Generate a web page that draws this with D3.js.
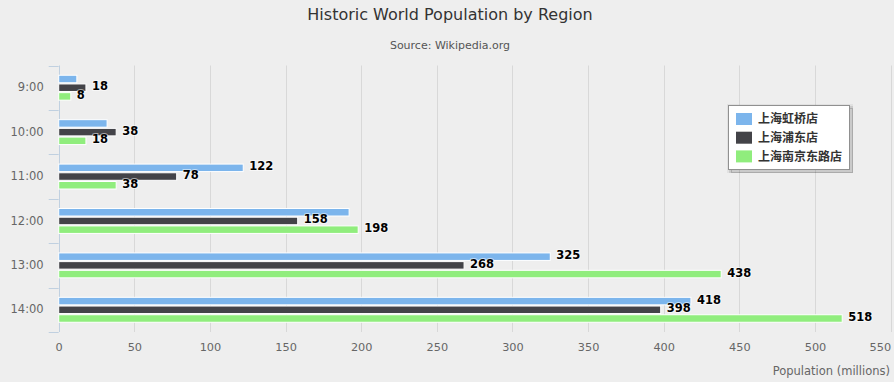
<!DOCTYPE html>
<html>
<head>
<meta charset="utf-8">
<script src="https://cdn.jsdelivr.net/npm/d3@7"></script>
<style>
  html, body { margin: 0; padding: 0; background: #eeeeee; }
  svg { display: block; font-family: "DejaVu Sans", "Noto Sans CJK SC", sans-serif; }
</style>
</head>
<body>
<div id="chart"></div>
<script>
// ---- data ----
const categories = ["9:00", "10:00", "11:00", "12:00", "13:00", "14:00"];
const seriesNames = ["上海虹桥店", "上海浦东店", "上海南京东路店"];
const hongqiao = [12, 32, 122, 192, 325, 418];
const pudong = [18, 38, 78, 158, 268, 398];
const nanjing = [8, 18, 38, 198, 438, 518];
const xTickValues = [0, 50, 100, 150, 200, 250, 300, 350, 400, 450, 500, 550];
const titleText = "Historic World Population by Region";
const subtitleText = "Source: Wikipedia.org";
const xAxisTitle = "Population (millions)";

// ---- styling ----
const colors = ["#7cb5ec", "#434348", "#90ed7d"];
const W = 894, H = 382;
const plot = { left: 58.7, right: 890.6, top: 65.5, bottom: 332 };

const svg = d3.select("#chart").append("svg")
  .attr("width", W).attr("height", H);
svg.append("rect").attr("width", W).attr("height", H).attr("fill", "#eeeeee");

const x = d3.scaleLinear().domain([0, 550]).range([plot.left, plot.right]);
const y = d3.scaleBand().domain(categories).range([plot.top, plot.bottom]);
const seriesData = [hongqiao, pudong, nanjing];

// title
svg.append("text").attr("x", 450).attr("y", 19.5).attr("text-anchor", "middle")
  .attr("font-size", 16).attr("fill", "#333333").text(titleText);
svg.append("text").attr("x", 450).attr("y", 49).attr("text-anchor", "middle")
  .attr("font-size", 11).attr("fill", "#555555").text(subtitleText);

// gridlines
svg.append("g").selectAll("line").data(xTickValues.slice(1)).join("line")
  .attr("x1", d => Math.round(x(d)) + 0.5).attr("x2", d => Math.round(x(d)) + 0.5)
  .attr("y1", plot.top).attr("y2", plot.bottom)
  .attr("stroke", "#d8d8d8").attr("stroke-width", 1);

// x axis labels
const xAxis = d3.axisBottom(x).tickValues(xTickValues).tickSize(0).tickPadding(0)
  .tickFormat(d3.format("d"));
const gx = svg.append("g").attr("transform", `translate(0,${plot.bottom + 19})`).call(xAxis);
gx.select(".domain").remove();
gx.selectAll("text").attr("font-size", 11.3).attr("fill", "#666666")
  .attr("font-family", "DejaVu Sans").attr("dy", "0");
gx.selectAll(".tick").filter(d => d === 550).select("text").attr("text-anchor", "end").attr("x", 0);
svg.append("text").attr("x", 890).attr("y", 375).attr("text-anchor", "end")
  .attr("font-size", 11.5).attr("fill", "#666666").text(xAxisTitle);

// y axis
const yAxis = d3.axisLeft(y).tickSize(0).tickPadding(15);
const gy = svg.append("g").attr("transform", `translate(${plot.left},0)`).call(yAxis);
gy.select(".domain").remove();
gy.selectAll("text").attr("font-size", 11.5).attr("fill", "#666666")
  .attr("font-family", "DejaVu Sans");
const boundaries = categories.map(c => y(c)).concat([y(categories[categories.length - 1]) + y.bandwidth()]);
svg.append("g").selectAll("line").data(boundaries).join("line")
  .attr("x1", plot.left - 10).attr("x2", plot.left)
  .attr("y1", d => Math.round(d) + 0.5).attr("y2", d => Math.round(d) + 0.5)
  .attr("stroke", "#c0d0e0").attr("stroke-width", 1);
svg.append("line").attr("x1", Math.round(plot.left) + 0.5).attr("x2", Math.round(plot.left) + 0.5)
  .attr("y1", plot.top).attr("y2", plot.bottom).attr("stroke", "#c0d0e0");

// bars
const pitch = y.bandwidth() * 0.196;
const barsG = svg.append("g");
const labels = [];
seriesData.forEach((vals, si) => {
  vals.forEach((v, ci) => {
    const cy = y(categories[ci]) + y.bandwidth() / 2 + (si - 1) * pitch;
    barsG.append("rect")
      .attr("x", x(0)).attr("y", cy - (pitch - 1.2) / 2)
      .attr("width", x(v) - x(0)).attr("height", pitch - 1.2)
      .attr("fill", colors[si]).attr("stroke", "#ffffff").attr("stroke-width", 1);
    labels.push({ v, cx: x(v) + 6, cy: cy - 1.6, si, ci });
  });
});

// data labels with simple overlap hiding (higher value wins)
const labelG = svg.append("g");
labels.forEach(l => {
  l.node = labelG.append("text").attr("x", l.cx).attr("y", l.cy).attr("dy", "0.36em")
    .attr("font-size", 11.5).attr("font-weight", "bold").attr("fill", "#000000")
    .attr("stroke", "rgba(255,255,255,0.55)").attr("stroke-width", 2)
    .attr("paint-order", "stroke").text(l.v);
  const b = l.node.node().getBBox();
  l.box = { x0: b.x - 2.5, x1: b.x + b.width + 2.5, y0: l.cy - 9.5, y1: l.cy + 9.5 };
});
const kept = [];
labels.slice().sort((a, b) => b.v - a.v).forEach(l => {
  const hit = kept.some(k => !(l.box.x1 <= k.box.x0 || l.box.x0 >= k.box.x1 ||
                               l.box.y1 <= k.box.y0 || l.box.y0 >= k.box.y1));
  if (hit) l.node.remove(); else kept.push(l);
});

// legend
const lg = svg.append("g").attr("transform", "translate(728.5,105.5)");
[3, 2, 1].forEach(o => {
  lg.append("rect").attr("x", o).attr("y", o).attr("width", 121).attr("height", 64)
    .attr("fill", "none").attr("stroke", "#000").attr("stroke-opacity", 0.05 * o)
    .attr("stroke-width", 6 - 2 * o + 1);
});
lg.append("rect").attr("width", 121).attr("height", 64)
  .attr("fill", "#ffffff").attr("stroke", "#909090").attr("stroke-width", 1);
seriesNames.forEach((name, i) => {
  const cy = 13.5 + i * 18.7;
  lg.append("rect").attr("x", 7.5).attr("y", cy - 6).attr("width", 16).attr("height", 12)
    .attr("fill", colors[i]);
  lg.append("text").attr("x", 29.5).attr("y", cy).attr("dy", "0.36em")
    .attr("font-size", 12).attr("font-weight", "bold").attr("fill", "#333333")
    .attr("font-family", "Noto Sans CJK SC").text(name);
});
</script>
</body>
</html>
